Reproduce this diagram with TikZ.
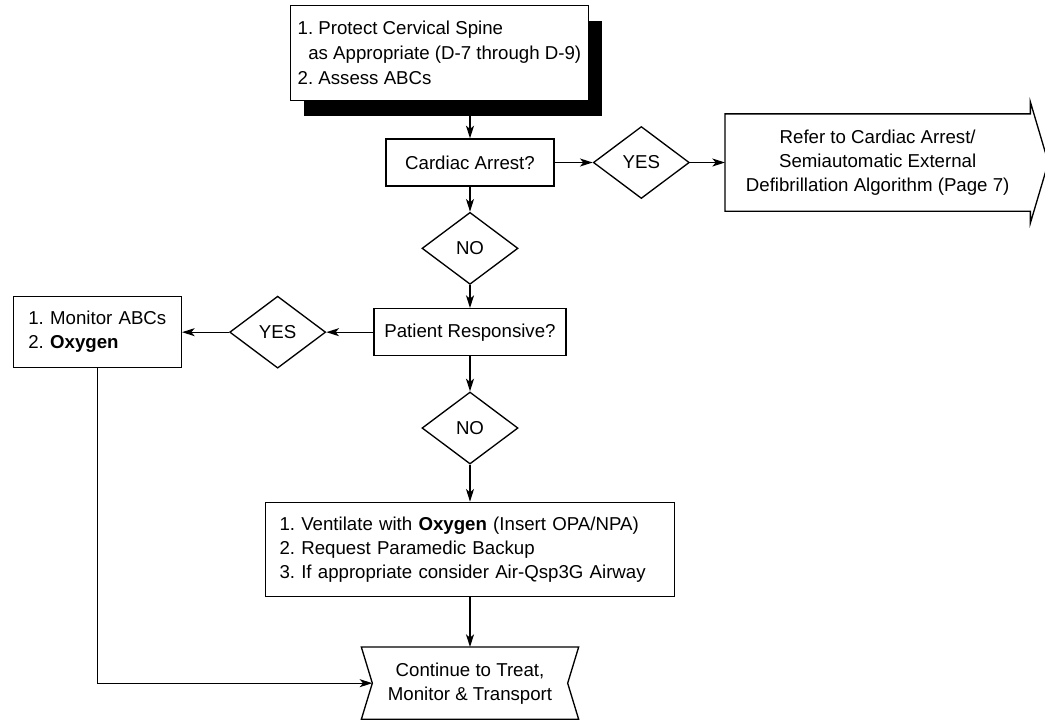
\documentclass[tikz,border=0pt]{standalone}
\usepackage{fontspec}
\setmainfont{Liberation Sans}
\usepackage{tikz}
\usetikzlibrary{arrows.meta}
\usetikzlibrary{calc}
\usetikzlibrary{shadows}
\usetikzlibrary{positioning}
\usetikzlibrary{shapes.geometric}
\frenchspacing

\begin{document}
\begin{tikzpicture}[x=0.75pt,y=-0.75pt,line width=1pt,
    font=\fontsize{14}{18}\selectfont,
    arr/.style={-{Stealth[length=9.5pt,width=6pt,inset=2.5pt]}},
    box/.style={draw,rectangle,inner sep=0pt,align=center},
    listbox/.style={draw,rectangle,align=left,inner ysep=0pt},
    decision/.style={draw,diamond,minimum width=72pt,minimum height=54pt,inner sep=0pt},
    shadowbox/.style={listbox,fill=white,inner xsep=5.25pt,minimum height=71.25pt,
        drop shadow={shadow xshift=10pt,shadow yshift=-11.5pt,fill=black,opacity=1}}]
        \useasboundingbox (0,0) rectangle (1045,719);

        \node[shadowbox, anchor=north west, font=\fontsize{14}{18.75}\selectfont] (spine) at (290,5)
            {1. Protect Cervical Spine\\\hspace*{8pt}as Appropriate (D-7 through D-9)\\2. Assess ABCs};
        \node[box, minimum width=126pt, minimum height=35.25pt] (cardiac) at (470,162.5) {Cardiac Arrest?};
        \node[decision, right=28.5pt of cardiac] (yes1) {YES};
        \node[box, right=26.25pt of yes1, minimum width=228pt, minimum height=72pt, draw=none] (refer)
            {Refer to Cardiac Arrest/\\Semiautomatic External\\Defibrillation Algorithm (Page 7)};
        \node[decision, below=18.75pt of cardiac] (no1) {NO};
        \node[box, below=17.25pt of no1, minimum width=144pt, minimum height=35.25pt] (patient) {Patient Responsive?};
        \node[decision, left=35.25pt of patient] (yes2) {YES};
        \node[listbox, left=35.25pt of yes2, inner xsep=11.25pt, text width=103.5pt, minimum height=53.25pt] (monitor)
            {1. Monitor ABCs\\2. \textbf{Oxygen}};
        \node[decision, below=26.25pt of patient] (no2) {NO};
        \node[listbox, below=27.75pt of no2, inner xsep=10.5pt, text width=285.75pt, minimum height=70.5pt] (vent)
            {1. Ventilate with \textbf{Oxygen} (Insert OPA/NPA)\\2. Request Paramedic Backup\\3. If appropriate consider Air-Qsp3G Airway};
        \node[box, below=37.5pt of vent, minimum width=162pt, minimum height=53.25pt, draw=none] (cont)
            {Continue to Treat,\\Monitor \& Transport};

        \draw (refer.north west) -- (refer.north east) -- ++(0,-12) -- ($(refer.east)+(18,0)$)
            -- ($(refer.south east)+(0,12)$) -- (refer.south east) -- (refer.south west) -- cycle;
        \draw (cont.north west) -- (cont.north east) -- ($(cont.east)+(-11,0)$) -- (cont.south east)
            -- (cont.south west) -- ($(cont.west)+(11,0)$) -- cycle;

        \coordinate (exit) at ($(spine.south -| cardiac.north)+(0,15)$);
        \coordinate (notch) at ($(cont.west)+(11,0)$);

        \draw[arr] (exit) -- (cardiac);
        \draw[arr] (cardiac) -- (yes1);
        \draw[arr] (yes1) -- (refer);
        \draw[arr] (cardiac) -- (no1);
        \draw[arr] (no1) -- (patient);
        \draw[arr] (patient) -- (yes2);
        \draw[arr] (yes2) -- (monitor);
        \draw[arr] (patient) -- (no2);
        \draw[arr] (no2) -- (vent);
        \draw[arr] (vent) -- (cont);
        \draw[arr] (monitor.south) |- (notch);
\end{tikzpicture}
\end{document}
